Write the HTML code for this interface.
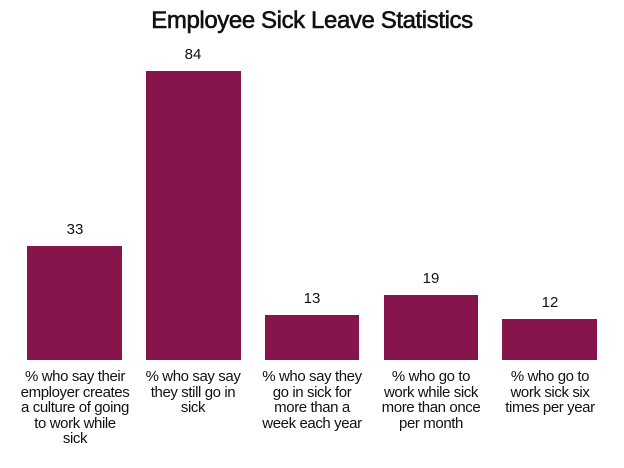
<!DOCTYPE html>
<html><head><style>
body{margin:0;width:624px;height:468px;background:#fff;font-family:"Liberation Sans",sans-serif;position:relative;overflow:hidden}
.t{position:absolute;top:7px;left:0;width:624px;text-align:center;font-size:24px;color:#111;-webkit-text-stroke:0.6px #111;letter-spacing:-0.4px}
.b{position:absolute;background:#85154a;bottom:108px}
.v{position:absolute;width:120px;text-align:center;font-size:15px;color:#111}
.l{position:absolute;top:369px;width:140px;text-align:center;font-size:15px;line-height:15.5px;color:#111;white-space:nowrap;letter-spacing:-0.4px}
</style></head><body>
<div class="t">Employee Sick Leave Statistics</div>
<div class="b" style="left:27px;width:95px;top:246px"></div>
<div class="b" style="left:146px;width:95px;top:71px"></div>
<div class="b" style="left:265px;width:94px;top:315px"></div>
<div class="b" style="left:384px;width:94px;top:295px"></div>
<div class="b" style="left:502px;width:95px;top:319px"></div>
<div class="v" style="left:15px;top:221px">33</div>
<div class="v" style="left:133px;top:46px">84</div>
<div class="v" style="left:252px;top:290px">13</div>
<div class="v" style="left:371px;top:270px">19</div>
<div class="v" style="left:490px;top:294px">12</div>
<div class="l" style="left:5px">% who say their<br>employer creates<br>a culture of going<br>to work while<br>sick</div>
<div class="l" style="left:123px">% who say say<br>they still go in<br>sick</div>
<div class="l" style="left:242px">% who say they<br>go in sick for<br>more than a<br>week each year</div>
<div class="l" style="left:361px">% who go to<br>work while sick<br>more than once<br>per month</div>
<div class="l" style="left:480px">% who go to<br>work sick six<br>times per year</div>
</body></html>
